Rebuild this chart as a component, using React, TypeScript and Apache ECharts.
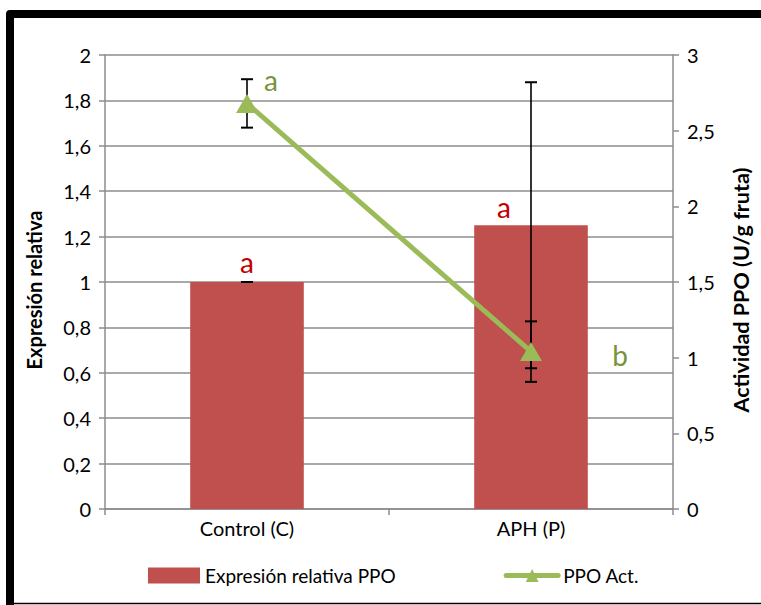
import React, { useEffect, useRef } from "react";
import * as echarts from "echarts";

const categories = ["Control (C)", "APH (P)"];
const expresionValues = [1.0, 1.25];
const expresionError = [0.0, 0.63];
const actividadValues = [2.68, 1.04];
const actividadError = [0.16, 0.2];
const expresionLetters = ["a", "a"];
const actividadLetters = ["a", "b"];

const FONT = "Lato, 'Open Sans', sans-serif";
const RED = "#C0504D";
const GREEN = "#9BBB59";
const GRID_GRAY = "#8c8c8c";

const fmt = (v: number) => String(+v.toFixed(1)).replace(".", ",");

function errorRender(params: any, api: any) {
  const x = api.value(0);
  const lo = api.coord([x, api.value(1)]);
  const hi = api.coord([x, api.value(2)]);
  const cw = 6;
  const stroke = { stroke: "#000", lineWidth: 1.6 };
  return {
    type: "group",
    children: [
      { type: "line", shape: { x1: lo[0], y1: lo[1], x2: hi[0], y2: hi[1] }, style: stroke },
      { type: "line", shape: { x1: lo[0] - cw, y1: lo[1], x2: lo[0] + cw, y2: lo[1] }, style: { ...stroke, lineWidth: 2 } },
      { type: "line", shape: { x1: hi[0] - cw, y1: hi[1], x2: hi[0] + cw, y2: hi[1] }, style: { ...stroke, lineWidth: 2 } },
    ],
  };
}

export default function App() {
  const ref = useRef<HTMLDivElement>(null);

  useEffect(() => {
    if (!ref.current) return;
    const chart = echarts.init(ref.current, null, { renderer: "svg" });

    const barLabelPos = [
      { position: ["50%", -20], offset: [0, 0] },
      { position: ["50%", -18], offset: [-27, 0] },
    ];
    const lineLabelOffset = [
      [24, -23],
      [89, 3],
    ];

    const titleStyle = {
      fontFamily: FONT,
      fontWeight: "bold",
      color: "#000",
      padding: [0, 16, 0, 0],
    };
    const tickLabel = { color: "#000", fontSize: 20, fontFamily: FONT };

    chart.setOption({
      animation: false,
      textStyle: { fontFamily: FONT },
      graphic: [
        {
          type: "polyline",
          shape: { points: [[10, 605], [10, 14], [761, 14]] },
          style: { stroke: "#000", lineWidth: 8, fill: null, lineJoin: "round" },
          z: 100,
        },
        {
          type: "line",
          shape: { x1: 10, y1: 603.5, x2: 761, y2: 603.5 },
          style: { stroke: "#000", lineWidth: 1.5 },
        },
      ],
      grid: { left: 105, right: 88, top: 55, bottom: 96, containLabel: false },
      legend: {
        left: 143,
        top: 561,
        itemWidth: 52,
        itemHeight: 16,
        itemGap: 108,
        textStyle: { fontFamily: FONT, fontSize: 19, color: "#000" },
        data: [
          { name: "Expresión relativa PPO", icon: "rect" },
          { name: "PPO Act.", lineStyle: { width: 5, color: GREEN, cap: "round" } },
        ],
      },
      xAxis: {
        type: "category",
        data: categories,
        axisLine: { lineStyle: { color: GRID_GRAY, width: 1.5 } },
        axisTick: { show: true, length: 6, lineStyle: { color: GRID_GRAY, width: 1.5 } },
        axisLabel: { ...tickLabel, margin: 9 },
      },
      yAxis: [
        {
          type: "value",
          min: 0,
          max: 2,
          interval: 0.2,
          name: "Expresión relativa",
          nameLocation: "middle",
          nameRotate: 90,
          nameGap: 61,
          nameTextStyle: { ...titleStyle, fontSize: 20 },
          axisLine: { show: true, lineStyle: { color: GRID_GRAY, width: 1.5 } },
          axisTick: { show: true, length: 6, lineStyle: { color: GRID_GRAY, width: 1.5 } },
          axisLabel: { ...tickLabel, margin: 14, formatter: fmt },
          splitLine: { show: true, lineStyle: { color: GRID_GRAY, width: 1.5 } },
        },
        {
          type: "value",
          min: 0,
          max: 3,
          interval: 0.5,
          position: "right",
          name: "Actividad PPO (U/g fruta)",
          nameLocation: "middle",
          nameRotate: 90,
          nameGap: 57,
          nameTextStyle: { ...titleStyle, fontSize: 21.5 },
          axisLine: { show: true, lineStyle: { color: GRID_GRAY, width: 1.5 } },
          axisTick: { show: true, length: 6, lineStyle: { color: GRID_GRAY, width: 1.5 } },
          axisLabel: { ...tickLabel, margin: 14, formatter: fmt },
          splitLine: { show: false },
        },
      ],
      series: [
        {
          name: "Expresión relativa PPO",
          type: "bar",
          yAxisIndex: 0,
          barWidth: "40%",
          itemStyle: { color: RED },
          z: 2,
          data: expresionValues.map((v, i) => ({
            value: v,
            label: {
              show: true,
              formatter: expresionLetters[i],
              position: barLabelPos[i].position,
              offset: barLabelPos[i].offset,
              align: "center",
              verticalAlign: "middle",
              color: "#C00000",
              fontSize: 28,
              fontFamily: FONT,
            },
          })),
        },
        {
          name: "errExpresion",
          type: "custom",
          yAxisIndex: 0,
          z: 3,
          renderItem: errorRender,
          encode: { x: 0, y: [1, 2] },
          data: expresionValues.map((v, i) => [i, v - expresionError[i], v + expresionError[i]]),
        },
        {
          name: "errActividad",
          type: "custom",
          yAxisIndex: 1,
          z: 3,
          renderItem: errorRender,
          encode: { x: 0, y: [1, 2] },
          data: actividadValues.map((v, i) => [i, v - actividadError[i], v + actividadError[i]]),
        },
        {
          name: "PPO Act.",
          type: "line",
          yAxisIndex: 1,
          z: 5,
          symbol: "triangle",
          symbolSize: [22, 19],
          lineStyle: { color: GREEN, width: 5 },
          itemStyle: { color: GREEN },
          data: actividadValues.map((v, i) => ({
            value: v,
            label: {
              show: true,
              formatter: actividadLetters[i],
              position: "inside",
              offset: lineLabelOffset[i],
              align: "center",
              verticalAlign: "middle",
              color: "#77933C",
              fontSize: 28,
              fontFamily: FONT,
            },
          })),
        },
      ],
    });

    return () => chart.dispose();
  }, []);

  return (
    <div
      ref={ref}
      style={{ position: "absolute", left: 0, top: 0, width: 761, height: 605, background: "#fff" }}
    />
  );
}
